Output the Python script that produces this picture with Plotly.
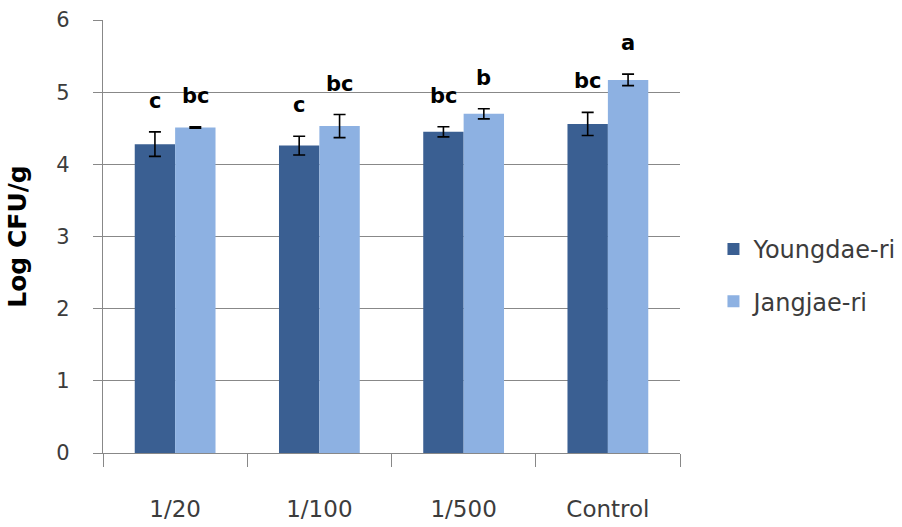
import plotly.graph_objects as go

categories = ["1/20", "1/100", "1/500", "Control"]
youngdae = [4.28, 4.26, 4.45, 4.56]
youngdae_err = [0.17, 0.13, 0.07, 0.16]
jangjae = [4.51, 4.53, 4.70, 5.17]
jangjae_err = [0.01, 0.16, 0.07, 0.08]
youngdae_letters = ["c", "c", "bc", "bc"]
jangjae_letters = ["bc", "bc", "b", "a"]
y_ticks = [0, 1, 2, 3, 4, 5, 6]

dark = "#3A5F92"
light = "#8DB1E2"
grid = "#888888"
txt = "#3c3c3c"

fig = go.Figure()
fig.add_trace(go.Bar(
    x=categories, y=youngdae, name="Youngdae-ri", marker_color=dark,
    marker_line_width=0, legendgroup="a",
    error_y=dict(type="data", array=youngdae_err, color="black", thickness=1.6, width=6),
))
fig.add_trace(go.Bar(
    x=categories, y=jangjae, name="Jangjae-ri", marker_color=light,
    marker_line_width=0, legendgroup="b",
    error_y=dict(type="data", array=jangjae_err, color="black", thickness=1.6, width=6),
))

# significance letters above each error bar
for i, cat in enumerate(categories):
    for off, vals, errs, letters in [(-1, youngdae, youngdae_err, youngdae_letters),
                                     (1, jangjae, jangjae_err, jangjae_letters)]:
        fig.add_annotation(
            x=cat, y=vals[i] + errs[i], text="<b>" + letters[i] + "</b>",
            showarrow=False, xshift=off * 20, yshift=31,
            font=dict(family="DejaVu Sans", size=21, color="black"),
            xanchor="center", yanchor="middle",
        )

fig.update_layout(
    width=902, height=527,
    margin=dict(l=103, r=222, t=20, b=74, autoexpand=False),
    paper_bgcolor="white", plot_bgcolor="white",
    barmode="group", bargap=0.44, bargroupgap=0,
    font=dict(family="DejaVu Sans", size=21, color=txt),
    showlegend=True,
    legend=dict(x=1.058, y=0.41, xanchor="left", yanchor="middle",
                font=dict(family="DejaVu Sans", size=24, color=txt),
                tracegroupgap=18, traceorder="grouped",
                bgcolor="rgba(0,0,0,0)"),
    xaxis=dict(
        showline=True, linecolor=grid, linewidth=1.2, automargin=False,
        ticks="outside", tickson="boundaries", ticklen=13, tickcolor=grid,
        tickwidth=1.2, ticklabelstandoff=35, showgrid=False,
        tickfont=dict(size=23, color=txt),
    ),
    yaxis=dict(
        range=[0, 6], tickvals=y_ticks, showline=True, linecolor=grid,
        linewidth=1.2, ticks="outside", ticklen=9, tickcolor=grid, tickwidth=1.2,
        showgrid=True, gridcolor=grid, gridwidth=1.2, zeroline=False,
        ticklabelstandoff=19, automargin=False,
        tickfont=dict(size=21, color=txt),
        title=dict(text="<b>Log CFU/g</b>", standoff=22,
                   font=dict(family="DejaVu Sans", size=25, color="black")),
    ),
)

fig.write_html("out.html")
